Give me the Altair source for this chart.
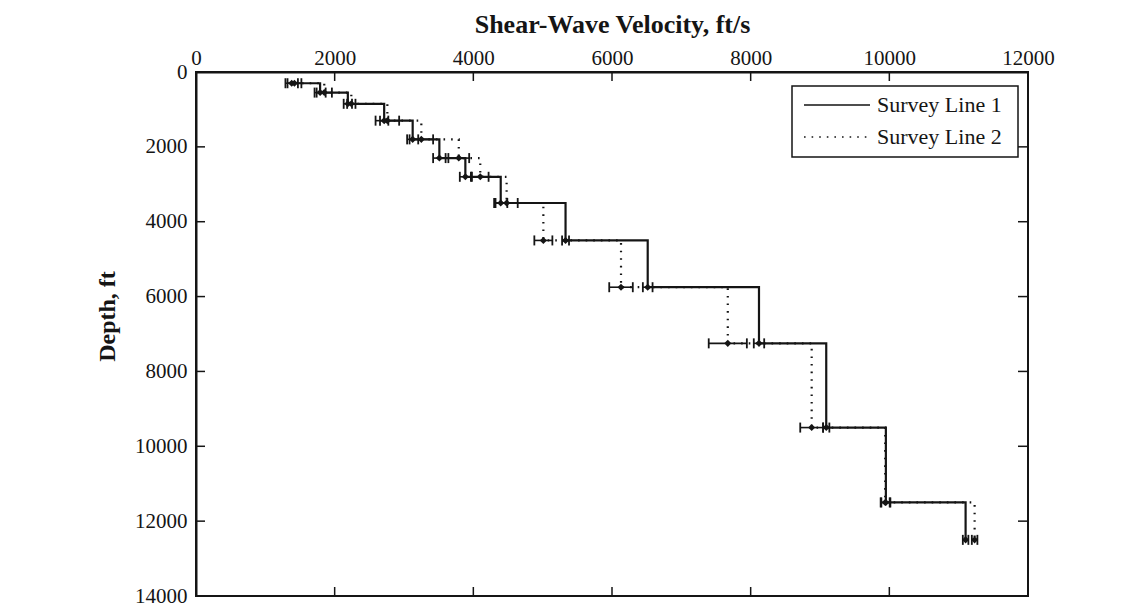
import altair as alt
import pandas as pd

# Layer mid-depths (ft) and shear-wave velocities (ft/s) for the two survey lines
depth_ft = [300, 550, 850, 1300, 1800, 2300, 2800, 3500, 4500, 5750, 7250, 9500, 11500, 12500]
vs_line1 = [1380, 1790, 2190, 2714, 3125, 3510, 3885, 4395, 5330, 6515, 8120, 9090, 9950, 11100]
vs_line2 = [1420, 1850, 2240, 2760, 3250, 3790, 4100, 4480, 5010, 6130, 7670, 8880, 9940, 11230]
# Half-widths of the velocity uncertainty bars (ft/s)
err_line1 = [90, 80, 60, 60, 80, 90, 80, 95, 50, 70, 75, 45, 65, 40]
err_line2 = [100, 110, 60, 170, 170, 150, 120, 160, 130, 170, 275, 165, 65, 40]

series_names = ["Survey Line 1", "Survey Line 2"]
x_ticks = [0, 2000, 4000, 6000, 8000, 10000, 12000]
y_ticks = [0, 2000, 4000, 6000, 8000, 10000, 12000, 14000]

W, H = 832, 524
INK = "#151515"
SERIF = "Liberation Serif"

rows = []
for name, vs, err in [(series_names[0], vs_line1, err_line1), (series_names[1], vs_line2, err_line2)]:
    for d, v, e in zip(depth_ft, vs, err):
        rows.append({"series": name, "depth": d, "vs": v, "lo": v - e, "hi": v + e})
df = pd.DataFrame(rows)

xs = alt.Scale(domain=[0, 12000], nice=False, zero=False)
ys = alt.Scale(domain=[0, 14000], nice=False, zero=False, reverse=True)

x_axis = alt.Axis(
    orient="top", values=x_ticks, format="d", ticks=False, tickSize=0, grid=False,
    domainColor=INK, domainWidth=2, labelFont=SERIF, labelFontSize=21, labelColor=INK,
    labelPadding=4, labelFlush=False, title="Shear-Wave Velocity, ft/s", titleFont=SERIF,
    titleFontSize=26, titleFontWeight="bold", titleColor=INK, titlePadding=10,
)
y_axis = alt.Axis(
    orient="left", values=y_ticks, format="d", ticks=False, tickSize=0, grid=False,
    domainColor=INK, domainWidth=2, labelFont=SERIF, labelFontSize=21, labelColor=INK,
    labelPadding=9, labelFlush=False, title="Depth, ft", titleFont=SERIF,
    titleFontSize=24, titleFontWeight="bold", titleColor=INK, titlePadding=15, titleY=244,
)

X = lambda f: alt.X(f, scale=xs, axis=x_axis)
Y = lambda f: alt.Y(f, scale=ys, axis=y_axis)

dash = alt.StrokeDash(
    "series:N", scale=alt.Scale(domain=series_names, range=[[1, 0], [1.6, 6]]), legend=None
)

base = alt.Chart(df)

profiles = base.mark_line(interpolate="step-after", color=INK, strokeWidth=2.2).encode(
    x=X("vs:Q"), y=Y("depth:Q"), strokeDash=dash, detail="series:N", order="depth:Q"
)

bars = base.mark_rule(color=INK, strokeWidth=1.6).encode(
    x=X("lo:Q"), x2="hi:Q", y=Y("depth:Q")
)
cap_lo = base.mark_tick(orient="vertical", color=INK, size=10, thickness=1.8, opacity=1).encode(
    x=X("lo:Q"), y=Y("depth:Q")
)
cap_hi = base.mark_tick(orient="vertical", color=INK, size=10, thickness=1.8, opacity=1).encode(
    x=X("hi:Q"), y=Y("depth:Q")
)
points = base.mark_point(shape="diamond", filled=True, size=50, color=INK, opacity=1).encode(
    x=X("vs:Q"), y=Y("depth:Q")
)

# Inward-pointing tick marks on all four sides of the frame
xt = alt.Chart(pd.DataFrame({"t": x_ticks}))
yt = alt.Chart(pd.DataFrame({"t": y_ticks}))
ticks_top = xt.mark_rule(color=INK, strokeWidth=1.5).encode(x=X("t:Q"), y=alt.value(0), y2=alt.value(9))
ticks_bottom = xt.mark_rule(color=INK, strokeWidth=1.5).encode(x=X("t:Q"), y=alt.value(H - 9), y2=alt.value(H))
ticks_left = yt.mark_rule(color=INK, strokeWidth=1.5).encode(y=Y("t:Q"), x=alt.value(0), x2=alt.value(9))
ticks_right = yt.mark_rule(color=INK, strokeWidth=1.5).encode(y=Y("t:Q"), x=alt.value(W - 10), x2=alt.value(W))

# Legend box
LX0, LX1, LY0, LY1 = 596, 822, 14, 85
leg_box = alt.Chart(pd.DataFrame({"k": [0]})).mark_rect(
    fill="white", stroke=INK, strokeWidth=1.5
).encode(x=alt.value(LX0), x2=alt.value(LX1), y=alt.value(LY0), y2=alt.value(LY1))

leg_layers = [leg_box]
for i, (name, sd) in enumerate(zip(series_names, [[1, 0], [1.6, 6]])):
    yy = 33 + 32 * i
    src = alt.Chart(pd.DataFrame({"label": [name]}))
    leg_layers.append(
        src.mark_rule(color=INK, strokeWidth=1.6, strokeDash=sd).encode(
            x=alt.value(608), x2=alt.value(674), y=alt.value(yy)
        )
    )
    leg_layers.append(
        src.mark_text(font=SERIF, fontSize=22, color=INK, align="left", baseline="middle").encode(
            x=alt.value(681), y=alt.value(yy), text="label:N"
        )
    )

chart = alt.layer(
    profiles, bars, cap_lo, cap_hi, points,
    ticks_top, ticks_bottom, ticks_left, ticks_right,
    *leg_layers,
).properties(
    width=W, height=H,
    autosize=alt.AutoSizeParams(type="none"),
    padding={"left": 196, "top": 72, "right": 1140 - 196 - W, "bottom": 607 - 72 - H},
    background="white",
).configure_view(stroke=INK, strokeWidth=2)

chart.save("out.html", embed_options={"renderer": "svg", "actions": False})
